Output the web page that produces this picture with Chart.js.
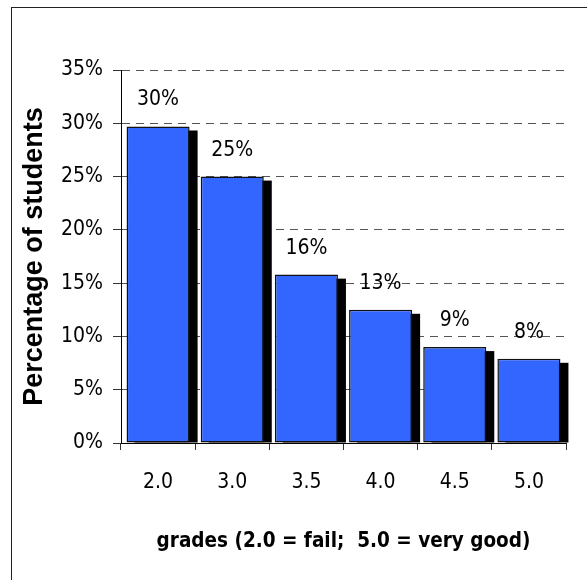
<!DOCTYPE html>
<html>
<head>
<meta charset="utf-8">
<script src="https://cdn.jsdelivr.net/npm/chart.js@4/dist/chart.umd.min.js"></script>
<style>
  body { margin: 0; background: #fff; }
  #marco { position: absolute; left: 11px; top: 7px; width: 620px; height: 620px; border-left: 1.5px solid #222; border-top: 1.5px solid #222; }
  #grafica { position: absolute; left: 0; top: 0; }
</style>
</head>
<body>
<div id="marco"></div>
<canvas id="grafica" width="587" height="580"></canvas>
<script>
'use strict';

// notas y porcentaje de estudiantes
var notas = ['2.0', '3.0', '3.5', '4.0', '4.5', '5.0'];
var porcentajes = [29.7, 25.0, 15.8, 12.5, 9.0, 7.9];
var ticksY = [0, 5, 10, 15, 20, 25, 30, 35];

var fuenteTexto = '"DejaVu Sans Condensed", "DejaVu Sans", sans-serif';

// sombra negra detras de cada barra
var sombraPlugin = {
  id: 'sombra',
  beforeDatasetsDraw: function (chart) {
    var ctx = chart.ctx;
    var meta = chart.getDatasetMeta(0);
    ctx.save();
    ctx.fillStyle = '#000';
    meta.data.forEach(function (bar) {
      var p = bar.getProps(['x', 'y', 'width', 'base'], true);
      ctx.fillRect(p.x - p.width / 2 + 8, p.y + 4, p.width, p.base - p.y - 4);
    });
    ctx.restore();
  }
};

// etiquetas con el porcentaje arriba de cada barra
var etiquetasPlugin = {
  id: 'etiquetas',
  afterDatasetsDraw: function (chart) {
    var ctx = chart.ctx;
    var meta = chart.getDatasetMeta(0);
    ctx.save();
    ctx.fillStyle = '#000';
    ctx.font = '21px ' + fuenteTexto;
    ctx.textAlign = 'center';
    ctx.textBaseline = 'alphabetic';
    meta.data.forEach(function (bar, i) {
      ctx.fillText(Math.round(porcentajes[i]) + '%', bar.x, bar.y - 21);
    });
    ctx.restore();
  }
};

var ctx = document.getElementById('grafica').getContext('2d');
var myChart = new Chart(ctx, {
  type: 'bar',
  data: {
    labels: notas,
    datasets: [{
      data: porcentajes,
      backgroundColor: '#3366FF',
      borderColor: '#111',
      borderWidth: 1.5,
      borderSkipped: false,
      barPercentage: 0.85,
      categoryPercentage: 1
    }]
  },
  options: {
    responsive: false,
    animation: false,
    layout: { padding: { top: 70, right: 21, left: 0, bottom: 0 } },
    plugins: {
      legend: { display: false },
      tooltip: { enabled: false }
    },
    scales: {
      x: {
        afterFit: function (scale) { scale.height = 580 - 443; },
        border: { color: '#000', width: 1 },
        grid: { drawOnChartArea: false, tickLength: 7, color: '#333' },
        ticks: { color: '#000', padding: 20, font: { family: fuenteTexto, size: 21 } },
        title: {
          display: true,
          text: 'grades (2.0 = fail;  5.0 = very good)',
          color: '#000',
          font: { family: fuenteTexto, size: 20.5, weight: 'bold' },
          padding: { top: 0, bottom: 26 }
        }
      },
      y: {
        min: 0,
        max: 35,
        afterFit: function (scale) { scale.width = 121; },
        afterBuildTicks: function (scale) {
          scale.ticks = ticksY.map(function (v) { return { value: v }; });
        },
        border: { color: '#000', width: 1, dash: [8, 6] },
        grid: {
          color: function (c) { return c.tick && c.tick.value === 0 ? 'rgba(0,0,0,0)' : '#555'; },
          tickBorderDash: [],
          tickColor: '#333',
          tickLength: 8
        },
        ticks: {
          color: '#000',
          padding: 10,
          font: { family: fuenteTexto, size: 21 },
          callback: function (v) { return v + '%'; }
        },
        title: {
          display: true,
          text: 'Percentage of students',
          color: '#000',
          font: { family: '"Liberation Sans", Arial, sans-serif', size: 27, weight: 'bold' },
          padding: { top: 18, bottom: 0 }
        }
      }
    }
  },
  plugins: [sombraPlugin, etiquetasPlugin]
});
</script>
</body>
</html>
